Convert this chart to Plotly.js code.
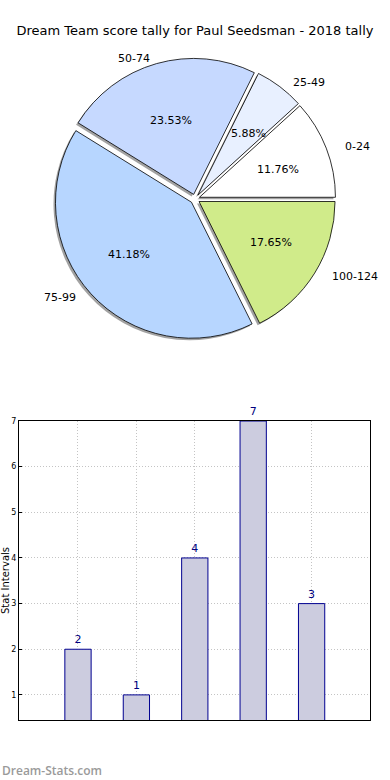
<!DOCTYPE html>
<html>
<head>
<meta charset="utf-8">
<script src="https://cdn.plot.ly/plotly-3.0.1.min.js"></script>
<style>
html,body{margin:0;padding:0;background:#fff;}
#chart{width:390px;height:780px;}
</style>
</head>
<body>
<div id="chart"></div>
<script>
// ---- data ----
const categories = ["0-24", "25-49", "50-74", "75-99", "100-124"];
const counts = [2, 1, 4, 7, 3];
const sliceColors = ["#ffffff", "#e8f0ff", "#c6d9ff", "#b7d6ff", "#d0eb8a"];
const yTicks = [1, 2, 3, 4, 5, 6, 7];
const titleText = "Dream Team score tally for Paul Seedsman - 2018 tally";
const yTitle = "Stat Intervals";
const watermark = "Dream-Stats.com";

// ---- geometry ----
const W = 390, H = 780;
const total = counts.reduce((a, b) => a + b, 0);
const rot = 90 - 360 * counts[0] / total;   // first slice starts at 3 o'clock, counterclockwise
const pull = 0.035;
const cx = 195, cy = 199, r = 136;
const half = r * (1 + pull);
const pieDomX = [(cx - half) / W, (cx + half) / W];
const pieDomY = [1 - (cy + half) / H, 1 - (cy - half) / H];
const shX = -2 / W, shY = -2 / H;

// text layer axes (unit = radius; slightly elliptical like the original)
const rx = 140, ry = 129;
const tTop = 50, tBot = 350;
const tAxX = {domain: [0, 1], range: [-cx / rx, (W - cx) / rx]};
const tAxY = {domain: [1 - tBot / H, 1 - tTop / H], range: [-(tBot - cy) / ry, (cy - tTop) / ry]};

const font = {family: "DejaVu Sans, sans-serif", size: 11, color: "#000"};

const shadow = {
  type: "pie",
  values: counts,
  labels: categories,
  sort: false,
  direction: "counterclockwise",
  rotation: rot,
  pull: pull,
  marker: {colors: categories.map(() => "rgba(70,70,70,0.5)"), line: {width: 0}},
  textinfo: "none",
  hoverinfo: "skip",
  showlegend: false,
  domain: {x: [pieDomX[0] + shX, pieDomX[1] + shX], y: [pieDomY[0] + shY, pieDomY[1] + shY]}
};

const pie = {
  type: "pie",
  values: counts,
  labels: categories,
  sort: false,
  direction: "counterclockwise",
  rotation: rot,
  pull: pull,
  marker: {colors: sliceColors, line: {color: "#000", width: 0.8}},
  textinfo: "none",
  showlegend: false,
  domain: {x: pieDomX, y: pieDomY}
};

const bars = {
  type: "bar",
  x: categories.map((c, i) => i),
  y: counts,
  width: 0.45,
  marker: {color: "#ccccdf", line: {color: "#000090", width: 1}},
  text: counts.map(String),
  textposition: "outside",
  cliponaxis: false,
  textfont: {family: font.family, size: 11, color: "#000080"},
  hoverinfo: "y",
  showlegend: false,
  xaxis: "x",
  yaxis: "y"
};

const anchorTrace = {type: "scatter", x: [], y: [], xaxis: "x2", yaxis: "y2", showlegend: false, hoverinfo: "skip"};

// pie texts: percentages inside at 0.6r, category labels outside at 1.1r
const annotations = [];
let acc = 0;
counts.forEach((v, i) => {
  const mid = (acc + v / 2) / total * 2 * Math.PI;
  acc += v;
  const c = Math.cos(mid), s = Math.sin(mid);
  const pct = (100 * v / total).toFixed(2) + "%";
  annotations.push({xref: "x2", yref: "y2", x: (0.6 + pull) * c, y: (0.6 + pull) * s,
    text: pct, showarrow: false, xanchor: "center", yanchor: "middle",
    font: {family: font.family, size: 11, color: "#000"}});
  annotations.push({xref: "x2", yref: "y2", x: (1.1 + pull) * c, y: (1.1 + pull) * s,
    text: categories[i], showarrow: false, xanchor: c > 0 ? "left" : "right", yanchor: "middle",
    font: {family: font.family, size: 11, color: "#000"}});
});
annotations.push({
  text: yTitle, xref: "paper", yref: "paper", x: 5 / W, y: 1 - 581 / H, textangle: -90,
  xanchor: "center", yanchor: "middle", showarrow: false, borderpad: 0,
  font: {family: font.family, size: 10, color: "#000"}
});
annotations.push({
  text: watermark, xref: "paper", yref: "paper", x: 0, y: 1 - 770 / H,
  xanchor: "left", yanchor: "middle", showarrow: false,
  font: {family: "Open Sans, DejaVu Sans, sans-serif", size: 12, color: "#9a9a9a", weight: 600}
});

const layout = {
  width: W, height: H,
  margin: {l: 0, r: 0, t: 0, b: 0},
  paper_bgcolor: "#fff",
  plot_bgcolor: "rgba(0,0,0,0)",
  font: font,
  showlegend: false,
  title: {text: titleText, x: 0.5, xanchor: "center", y: 1 - 30 / H, yanchor: "middle",
          font: {family: font.family, size: 13, color: "#000"}},
  xaxis: {
    domain: [19 / W, 370 / W],
    range: [-1.01, 5.0],
    tickvals: categories.map((c, i) => i),
    showticklabels: false,
    ticks: "",
    showgrid: true,
    gridcolor: "#c4c4c4",
    griddash: "1px,2px",
    gridwidth: 1,
    zeroline: false,
    showline: true, mirror: true, linecolor: "#000", linewidth: 1
  },
  yaxis: {
    domain: [1 - 720 / H, 1 - 421 / H],
    range: [0.45, 7],
    tickvals: yTicks,
    ticktext: yTicks.map(String),
    tickfont: {family: font.family, size: 8, color: "#000"},
    ticks: "inside", ticklen: 3, tickcolor: "#000",
    showgrid: true,
    gridcolor: "#c4c4c4",
    griddash: "1px,2px",
    gridwidth: 1,
    zeroline: false,
    showline: true, mirror: true, linecolor: "#000", linewidth: 1
  },
  xaxis2: Object.assign({anchor: "y2", visible: false, fixedrange: true, showgrid: false, zeroline: false}, tAxX),
  yaxis2: Object.assign({anchor: "x2", visible: false, fixedrange: true, showgrid: false, zeroline: false}, tAxY),
  annotations: annotations
};

Plotly.newPlot("chart", [shadow, pie, bars, anchorTrace], layout, {displayModeBar: false, staticPlot: true});
</script>
</body>
</html>
